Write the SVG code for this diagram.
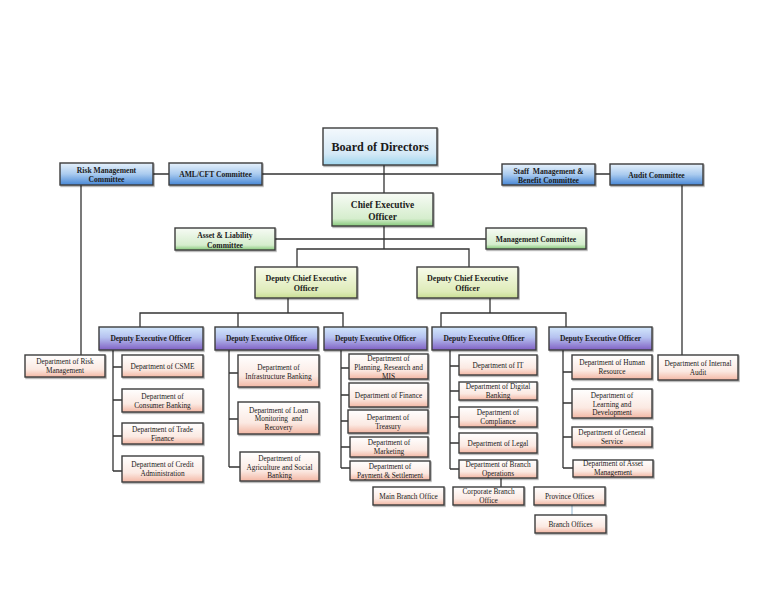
<svg xmlns="http://www.w3.org/2000/svg" width="768" height="594" viewBox="0 0 768 594">
<defs>
<linearGradient id="gBod" x1="0" y1="0" x2="0" y2="1"><stop offset="0" stop-color="#f4f9fd"/><stop offset="0.7" stop-color="#d3e8f6"/><stop offset="1" stop-color="#9fd6ee"/></linearGradient>
<linearGradient id="gBlue" x1="0" y1="0" x2="0" y2="1"><stop offset="0" stop-color="#e6f1fb"/><stop offset="0.5" stop-color="#aacbef"/><stop offset="1" stop-color="#4687d6"/></linearGradient>
<linearGradient id="gGreen" x1="0" y1="0" x2="0" y2="1"><stop offset="0" stop-color="#f7fbf5"/><stop offset="0.78" stop-color="#d5edcd"/><stop offset="1" stop-color="#86c97a"/></linearGradient>
<linearGradient id="gDceo" x1="0" y1="0" x2="0" y2="1"><stop offset="0" stop-color="#f8fbea"/><stop offset="0.8" stop-color="#deebb8"/><stop offset="1" stop-color="#c9de92"/></linearGradient>
<linearGradient id="gDeo" x1="0" y1="0" x2="0" y2="1"><stop offset="0" stop-color="#d2e7fb"/><stop offset="0.45" stop-color="#b6c2f0"/><stop offset="1" stop-color="#8060c4"/></linearGradient>
<linearGradient id="gDept" x1="0" y1="0" x2="0" y2="1"><stop offset="0" stop-color="#ffffff"/><stop offset="0.65" stop-color="#fbe9e2"/><stop offset="1" stop-color="#f3b7a4"/></linearGradient>
<filter id="sh" x="-10%" y="-10%" width="130%" height="140%"><feDropShadow dx="1" dy="1.2" stdDeviation="0.7" flood-color="#000" flood-opacity="0.35"/></filter>
</defs>
<style>
.b{stroke:#3c3c3c;stroke-width:1.4;filter:url(#sh)}
.bod{fill:url(#gBod)}
.blue{fill:url(#gBlue)}
.green{fill:url(#gGreen)}
.dceo{fill:url(#gDceo)}
.deo{fill:url(#gDeo)}
.dept{fill:url(#gDept)}
text{font-family:"Liberation Serif","Times New Roman",serif;fill:#1a1a1a;text-anchor:middle}
.tb{font-weight:bold;font-size:7.6px}
.td{font-weight:bold;font-size:7.5px}
.t{font-size:7.3px}
.con{fill:none;stroke:#333;stroke-width:1.3}
</style>
<rect width="768" height="594" fill="#ffffff"/>
<g id="connectors">
<path class="con" d="M153 174H169M262 174H502M595 174H610M384 165V193M81 185V355M682 185V355M275 239H486M384 226V249M297 267V249H469V267"/>
<path class="con" d="M288 298V313M140 327V313H343V327M238 313V327M490 298V313M441 327V313H566V327"/>
<path class="con" d="M113 350V471M113 367H122M113 400H122M113 436H122M113 471H122"/>
<path class="con" d="M229 350V467M229 373H238M229 419H238M229 467H240"/>
<path class="con" d="M341 350V468M341 368H349M341 395H349M341 421H348M341 447H350M341 468H350"/>
<path class="con" d="M450 350V469M450 366H459M450 391H459M450 417H459M450 443H459M450 469H459"/>
<path class="con" d="M563 350V468M563 372H572M563 403H572M563 437H572M563 468H573"/>
<path class="con" d="M501 478V487"/>
<path fill="none" stroke="#8fb4d0" stroke-width="1" d="M572 505V515"/>
</g>
<g id="bod"><rect class="b bod" x="323" y="128" width="114" height="37"/><text x="380" y="151" style="font-weight:bold;font-size:12.2px">Board of Directors</text></g>
<g id="risk-committee"><rect class="b blue" x="60" y="163" width="93" height="22"/><text class="tb" x="106.5" y="172.5">Risk Management</text><text class="tb" x="106.5" y="181.5">Committee</text></g>
<g id="aml"><rect class="b blue" x="169" y="163" width="93" height="22"/><text class="tb" x="215.5" y="177">AML/CFT Committee</text></g>
<g id="staff"><rect class="b blue" x="502" y="164" width="93" height="21"/><text class="tb" x="548.5" y="173.5" xml:space="preserve">Staff  Management &amp;</text><text class="tb" x="548.5" y="182.5">Benefit Committee</text></g>
<g id="audit-committee"><rect class="b blue" x="610" y="164" width="93" height="21"/><text class="tb" x="656.5" y="177.5">Audit Committee</text></g>
<g id="ceo"><rect class="b green" x="332" y="193" width="101" height="33"/><text x="382.5" y="207.5" style="font-weight:bold;font-size:9.4px">Chief Executive</text><text x="382.5" y="219.5" style="font-weight:bold;font-size:9.4px">Officer</text></g>
<g id="alco"><rect class="b green" x="175" y="228" width="100" height="22"/><text class="tb" x="225" y="237.5">Asset &amp; Liability</text><text class="tb" x="225" y="248">Committee</text></g>
<g id="mgmt"><rect class="b green" x="486" y="228" width="100" height="21"/><text class="tb" x="536" y="241.5">Management Committee</text></g>
<g id="dceo1"><rect class="b dceo" x="255" y="267" width="102" height="31"/><text x="306" y="281" style="font-weight:bold;font-size:8px">Deputy Chief Executive</text><text x="306" y="291" style="font-weight:bold;font-size:8px">Officer</text></g>
<g id="dceo2"><rect class="b dceo" x="417" y="267" width="101" height="31"/><text x="467.5" y="281" style="font-weight:bold;font-size:8px">Deputy Chief Executive</text><text x="467.5" y="291" style="font-weight:bold;font-size:8px">Officer</text></g>
<g id="deo1"><rect class="b deo" x="99" y="327" width="104" height="23"/><text class="td" x="151" y="341">Deputy Executive Officer</text></g>
<g id="deo2"><rect class="b deo" x="215" y="327" width="103" height="23"/><text class="td" x="266.5" y="341">Deputy Executive Officer</text></g>
<g id="deo3"><rect class="b deo" x="324" y="327" width="103" height="23"/><text class="td" x="375.5" y="341">Deputy Executive Officer</text></g>
<g id="deo4"><rect class="b deo" x="432" y="327" width="104" height="23"/><text class="td" x="484" y="341">Deputy Executive Officer</text></g>
<g id="deo5"><rect class="b deo" x="549" y="327" width="103" height="23"/><text class="td" x="600.5" y="341">Deputy Executive Officer</text></g>
<g id="dept-risk"><rect class="b dept" x="25" y="355" width="80" height="22"/><text class="t" x="65" y="364">Department of Risk</text><text class="t" x="65" y="373">Management</text></g>
<g id="dept-audit"><rect class="b dept" x="658" y="355" width="80" height="25"/><text class="t" x="698" y="366">Department of Internal</text><text class="t" x="698" y="375">Audit</text></g>
<g id="dept-csme"><rect class="b dept" x="122" y="355" width="81" height="22"/><text class="t" x="162.5" y="368.5">Department of CSME</text></g>
<g id="dept-consumer"><rect class="b dept" x="122" y="389" width="81" height="23"/><text class="t" x="162.5" y="398.5">Department of</text><text class="t" x="162.5" y="407.5">Consumer Banking</text></g>
<g id="dept-trade"><rect class="b dept" x="122" y="423" width="81" height="21"/><text class="t" x="162.5" y="432">Department of Trade</text><text class="t" x="162.5" y="441">Finance</text></g>
<g id="dept-credit"><rect class="b dept" x="122" y="456" width="81" height="26"/><text class="t" x="162.5" y="467">Department of Credit</text><text class="t" x="162.5" y="476">Administration</text></g>
<g id="dept-infra"><rect class="b dept" x="238" y="355" width="81" height="32"/><text class="t" x="278.5" y="370">Department of</text><text class="t" x="278.5" y="379">Infrastructure Banking</text></g>
<g id="dept-loan"><rect class="b dept" x="238" y="402" width="81" height="32"/><text class="t" x="278.5" y="412.5">Department of Loan</text><text class="t" x="278.5" y="421" xml:space="preserve">Monitoring  and</text><text class="t" x="278.5" y="429.5">Recovery</text></g>
<g id="dept-agri"><rect class="b dept" x="240" y="452" width="79" height="29"/><text class="t" x="279.5" y="461">Department of</text><text class="t" x="279.5" y="469.5">Agriculture and Social</text><text class="t" x="279.5" y="478">Banking</text></g>
<g id="dept-planning"><rect class="b dept" x="349" y="354" width="79" height="25"/><text class="t" x="388.5" y="360.5">Department of</text><text class="t" x="388.5" y="369.5">Planning, Research and</text><text class="t" x="388.5" y="378.5">MIS</text></g>
<g id="dept-finance"><rect class="b dept" x="349" y="383" width="79" height="24"/><text class="t" x="388.5" y="397.5">Department of Finance</text></g>
<g id="dept-treasury"><rect class="b dept" x="348" y="410" width="80" height="23"/><text class="t" x="388" y="419.5">Department of</text><text class="t" x="388" y="428.5">Treasury</text></g>
<g id="dept-marketing"><rect class="b dept" x="350" y="437" width="78" height="20"/><text class="t" x="389" y="444.5">Department of</text><text class="t" x="389" y="453.5">Marketing</text></g>
<g id="dept-payment"><rect class="b dept" x="350" y="461" width="80" height="19"/><text class="t" x="390" y="468.5">Department of</text><text class="t" x="390" y="477.5">Payment &amp; Settlement</text></g>
<g id="dept-it"><rect class="b dept" x="459" y="355" width="78" height="20"/><text class="t" x="498" y="367.5">Department of IT</text></g>
<g id="dept-digital"><rect class="b dept" x="459" y="382" width="78" height="18"/><text class="t" x="498" y="388.5">Department of Digital</text><text class="t" x="498" y="397.5">Banking</text></g>
<g id="dept-compliance"><rect class="b dept" x="459" y="407" width="78" height="20"/><text class="t" x="498" y="414.5">Department of</text><text class="t" x="498" y="423.5">Compliance</text></g>
<g id="dept-legal"><rect class="b dept" x="459" y="433" width="78" height="20"/><text class="t" x="498" y="445.5">Department of Legal</text></g>
<g id="dept-branchops"><rect class="b dept" x="459" y="460" width="78" height="18"/><text class="t" x="498" y="466.5">Department of Branch</text><text class="t" x="498" y="475.5">Operations</text></g>
<g id="dept-hr"><rect class="b dept" x="572" y="355" width="80" height="24"/><text class="t" x="612" y="365">Department of Human</text><text class="t" x="612" y="374">Resource</text></g>
<g id="dept-ld"><rect class="b dept" x="572" y="389" width="80" height="29"/><text class="t" x="612" y="398">Department of</text><text class="t" x="612" y="406.5">Learning and</text><text class="t" x="612" y="415">Development</text></g>
<g id="dept-general"><rect class="b dept" x="572" y="427" width="80" height="20"/><text class="t" x="612" y="434.5">Department of General</text><text class="t" x="612" y="443.5">Service</text></g>
<g id="dept-asset"><rect class="b dept" x="573" y="460" width="80" height="17"/><text class="t" x="613" y="466">Department of Asset</text><text class="t" x="613" y="475">Management</text></g>
<g id="main-branch"><rect class="b dept" x="373" y="487" width="71" height="18"/><text class="t" x="408.5" y="498.5">Main Branch Office</text></g>
<g id="corporate-branch"><rect class="b dept" x="453" y="487" width="71" height="18"/><text class="t" x="488.5" y="493.5">Corporate Branch</text><text class="t" x="488.5" y="502.5">Office</text></g>
<g id="province"><rect class="b dept" x="534" y="487" width="71" height="18"/><text class="t" x="569.5" y="498.5">Province Offices</text></g>
<g id="branch-offices"><rect class="b dept" x="535" y="515" width="71" height="18"/><text class="t" x="570.5" y="526.5">Branch Offices</text></g>
</svg>
